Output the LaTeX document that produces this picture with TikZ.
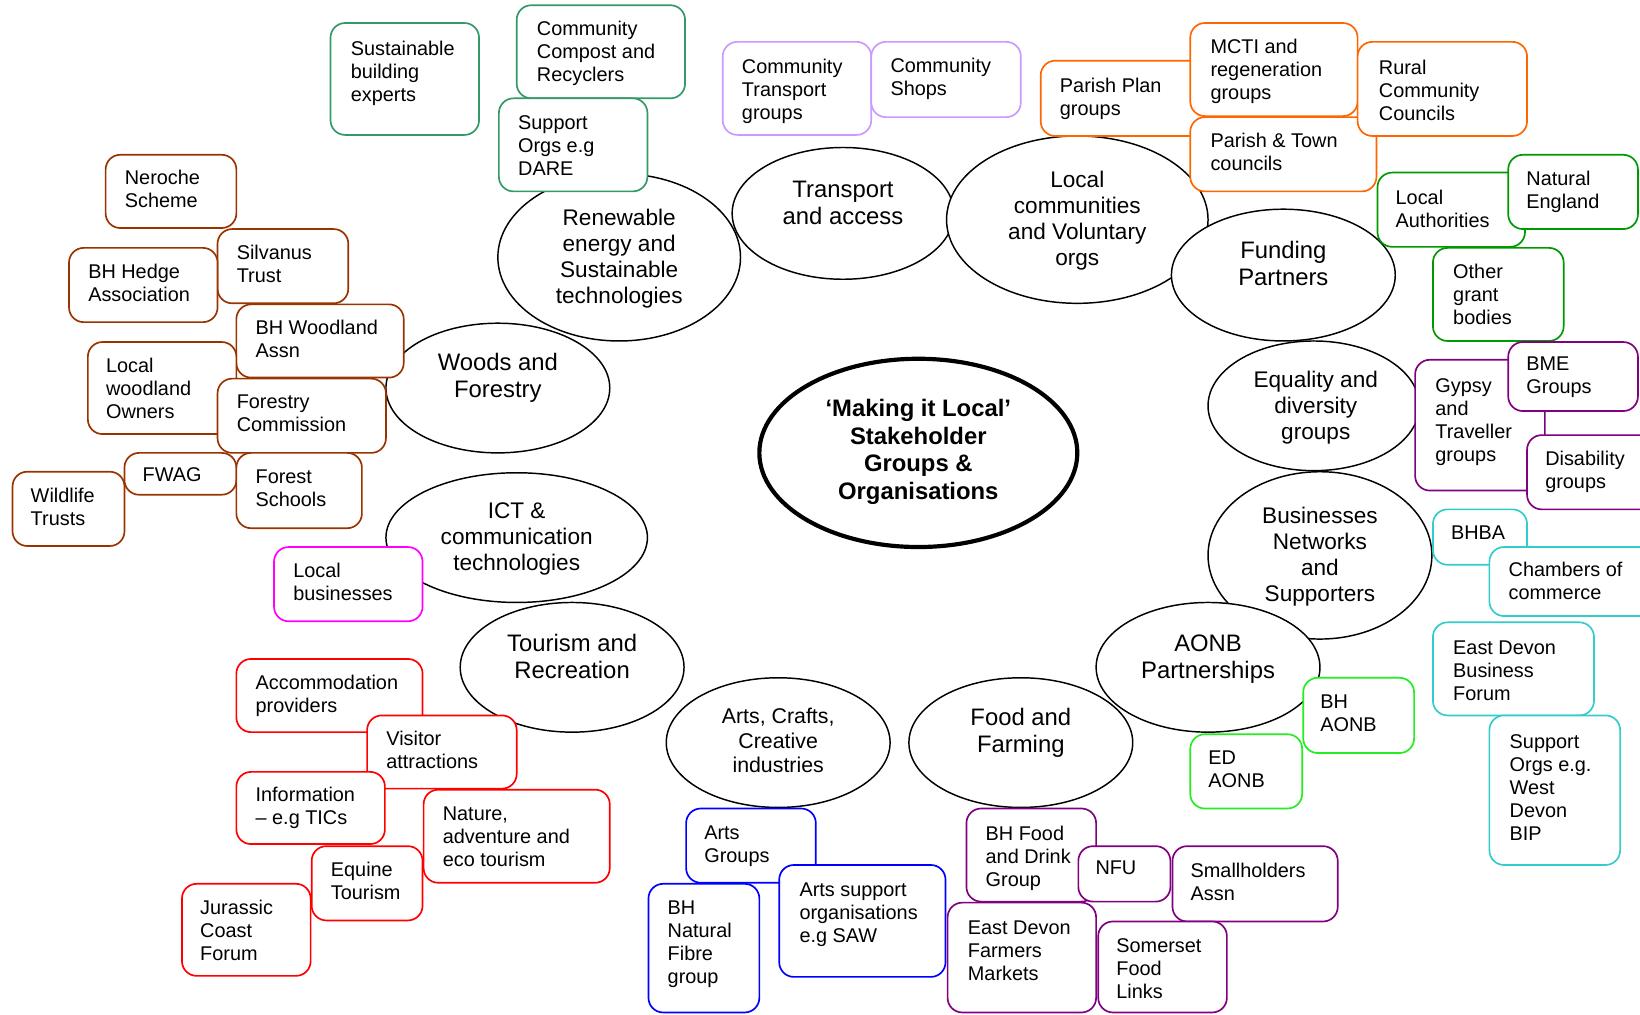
\documentclass[tikz,border=0pt]{standalone}
\usepackage{fontspec}
\setmainfont{Liberation Sans}
\usepackage{tikz}

\definecolor{teal}{HTML}{339966}
\definecolor{lilac}{HTML}{CC99FF}
\definecolor{orng}{HTML}{FF6600}
\definecolor{dkgreen}{HTML}{009900}
\definecolor{purp}{HTML}{800080}
\definecolor{cyn}{HTML}{33CCCC}
\definecolor{ltgreen}{HTML}{22EE22}
\definecolor{blu}{HTML}{0000FF}
\definecolor{brwn}{HTML}{993300}
\definecolor{rd}{HTML}{FF0000}
\definecolor{mgnt}{HTML}{FF00FF}

\tikzset{
  bx/.style={line width=0.8pt, rounded corners=7pt, fill=white},
  bubble/.style={draw=black, line width=0.7pt, fill=white},
  lbl/.style={inner sep=0pt, anchor=north west, align=left, font=\fontsize{9.5}{11}\selectfont},
  bigtxt/.style={inner sep=0pt, align=center, font=\fontsize{11.4}{13}\selectfont},
  midtxt/.style={inner sep=0pt, align=center, font=\fontsize{10.8}{12.4}\selectfont},
  artstxt/.style={inner sep=0pt, align=center, font=\fontsize{10.2}{11.8}\selectfont}
}

\begin{document}
\begin{tikzpicture}[x=0.5pt, y=-0.5pt]
        \useasboundingbox (0,0) rectangle (1568,970);
        \clip (0,0) rectangle (1568,970);
        \fill[white] (0,0) rectangle (1568,970);

        % topic bubbles
        \draw[bubble] (592,246) ellipse [x radius=116, y radius=80];
        \node[midtxt] (renew) at (592,247) {Renewable\\energy and\\Sustainable\\technologies};
        \draw[bubble] (806,204) ellipse [x radius=106, y radius=63];
        \node[bigtxt] (transp) at (806,194) {Transport\\and access};
        \draw[bubble] (1030,210) ellipse [x radius=125, y radius=80];
        \node[midtxt] (localc) at (1030,211) {Local\\communities\\and Voluntary\\orgs};
        \draw[bubble] (1227,263) ellipse [x radius=107, y radius=63];
        \node[bigtxt] (fund) at (1227,252) {Funding\\Partners};
        \draw[bubble] (1256,388) ellipse [x radius=101, y radius=62];
        \node[midtxt] (equal) at (1258,390) {Equality and\\diversity\\groups};
        \draw[bubble] (1262,531) ellipse [x radius=107, y radius=80];
        \node[midtxt] (busi) at (1262,532) {Businesses\\Networks\\and\\Supporters};
        \draw[bubble] (1155,638) ellipse [x radius=107, y radius=62];
        \node[bigtxt] (aonb) at (1155,630) {AONB\\Partnerships};
        \draw[bubble] (976,710) ellipse [x radius=107, y radius=62];
        \node[bigtxt] (food) at (976,701) {Food and\\Farming};
        \draw[bubble] (744,710) ellipse [x radius=107, y radius=62];
        \node[artstxt] (arts) at (744,708) {Arts, Crafts,\\Creative\\industries};
        \draw[bubble] (547,638) ellipse [x radius=107, y radius=62];
        \node[bigtxt] (tour) at (547,628) {Tourism and\\Recreation};
        \draw[bubble] (494,514) ellipse [x radius=125, y radius=62];
        \node[midtxt] (ict) at (494,515) {ICT \&\\communication\\technologies};
        \draw[bubble] (476,371) ellipse [x radius=107, y radius=62];
        \node[bigtxt] (woods) at (476,361) {Woods and\\Forestry};

        % centre
        \draw[bubble, line width=2pt] (878,433) ellipse [x radius=152, y radius=90];
        \node[bigtxt, font=\fontsize{11.4}{13.2}\selectfont\bfseries] (hub) at (878,432) {‘Making it Local’\\Stakeholder\\Groups \&\\Organisations};

        % renewables
        \draw[bx, draw=teal] (316,22) rectangle (458,129);
        \node[lbl] (sbe) at (335,39) {Sustainable\\building\\experts};
        \draw[bx, draw=teal] (494,5) rectangle (655,94);
        \node[lbl] (ccr) at (513,20) {Community\\Compost and\\Recyclers};
        \draw[bx, draw=teal] (477,94) rectangle (619,183);
        \node[lbl] (dare) at (495,110) {Support\\Orgs e.g\\DARE};

        % transport
        \draw[bx, draw=lilac] (691,40) rectangle (833,129);
        \node[lbl] (ctg) at (709,56) {Community\\Transport\\groups};
        \draw[bx, draw=lilac] (833,40) rectangle (976,112);
        \node[lbl] (shops) at (851,55) {Community\\Shops};

        % local communities
        \draw[bx, draw=orng] (995,58) rectangle (1160,130);
        \node[lbl] (ppg) at (1013,74) {Parish Plan\\groups};
        \draw[bx, draw=orng] (1138,22) rectangle (1298,111);
        \node[lbl] (mcti) at (1157,37) {MCTI and\\regeneration\\groups};
        \draw[bx, draw=orng] (1138,112) rectangle (1316,183);
        \node[lbl] (ptc) at (1157,127) {Parish \& Town\\councils};
        \draw[bx, draw=orng] (1298,40) rectangle (1460,130);
        \node[lbl] (rcc) at (1318,57) {Rural\\Community\\Councils};

        % funding
        \draw[bx, draw=dkgreen] (1317,165) rectangle (1458,236);
        \node[lbl] (la) at (1334,181) {Local\\Authorities};
        \draw[bx, draw=dkgreen] (1442,148) rectangle (1566,219);
        \node[lbl] (ne) at (1459,163) {Natural\\England};
        \draw[bx, draw=dkgreen] (1370,237) rectangle (1495,326);
        \node[lbl] (ogb) at (1389,252) {Other\\grant\\bodies};

        % equality
        \draw[bx, draw=purp] (1353,344) rectangle (1477,469);
        \node[lbl] (gyp) at (1372,362) {Gypsy\\and\\Traveller\\groups};
        \draw[bx, draw=purp] (1442,327) rectangle (1566,393);
        \node[lbl] (bme) at (1459,341) {BME\\Groups};
        \draw[bx, draw=purp] (1460,416) rectangle (1590,487);
        \node[lbl] (dis) at (1477,431) {Disability\\groups};

        % businesses
        \draw[bx, draw=cyn] (1370,487) rectangle (1460,540);
        \node[lbl] (bhba) at (1387,502) {BHBA};
        \draw[bx, draw=cyn] (1424,523) rectangle (1590,589);
        \node[lbl] (coc) at (1442,537) {Chambers of\\commerce};
        \draw[bx, draw=cyn] (1370,595) rectangle (1524,684);
        \node[lbl] (edbf) at (1389,612) {East Devon\\Business\\Forum};
        \draw[bx, draw=cyn] (1424,684) rectangle (1549,827);
        \node[lbl] (wdb) at (1443,702) {Support\\Orgs e.g.\\West\\Devon\\BIP};

        % aonb
        \draw[bx, draw=ltgreen] (1246,648) rectangle (1352,720);
        \node[lbl] (bha) at (1262,664) {BH\\AONB};
        \draw[bx, draw=ltgreen] (1138,702) rectangle (1245,773);
        \node[lbl] (eda) at (1155,717) {ED\\AONB};

        % food
        \draw[bx, draw=purp] (924,773) rectangle (1048,862);
        \node[lbl] (bhf) at (942,789) {BH Food\\and Drink\\Group};
        \draw[bx, draw=purp] (1031,809) rectangle (1119,862);
        \node[lbl] (nfu) at (1047,823) {NFU};
        \draw[bx, draw=purp] (1121,809) rectangle (1279,881);
        \node[lbl] (sha) at (1138,825) {Smallholders\\Assn};
        \draw[bx, draw=purp] (906,863) rectangle (1048,968);
        \node[lbl] (edfm) at (925,880) {East Devon\\Farmers\\Markets};
        \draw[bx, draw=purp] (1050,881) rectangle (1173,968);
        \node[lbl] (sfl) at (1067,897) {Somerset\\Food\\Links};

        % arts
        \draw[bx, draw=blu] (656,773) rectangle (780,844);
        \node[lbl] (ag) at (673,789) {Arts\\Groups};
        \draw[bx, draw=blu] (620,845) rectangle (726,968);
        \node[lbl] (bhnf) at (638,861) {BH\\Natural\\Fibre\\group};
        \draw[bx, draw=blu] (745,827) rectangle (904,934);
        \node[lbl] (asup) at (764,844) {Arts support\\organisations\\e.g SAW};

        % tourism
        \draw[bx, draw=rd] (226,630) rectangle (404,700);
        \node[lbl] (acc) at (244,645) {Accommodation\\providers};
        \draw[bx, draw=rd] (351,684) rectangle (494,754);
        \node[lbl] (vis) at (369,699) {Visitor\\attractions};
        \draw[bx, draw=rd] (226,738) rectangle (368,807);
        \node[lbl] (info) at (244,752) {Information\\– e.g TICs};
        \draw[bx, draw=rd] (405,755) rectangle (583,844);
        \node[lbl] (nat) at (423,771) {Nature,\\adventure and\\eco tourism};
        \draw[bx, draw=rd] (298,809) rectangle (404,880);
        \node[lbl] (equ) at (316,824) {Equine\\Tourism};
        \draw[bx, draw=rd] (174,845) rectangle (297,933);
        \node[lbl] (jcf) at (191,860) {Jurassic\\Coast\\Forum};

        % ict
        \draw[bx, draw=mgnt] (262,523) rectangle (404,594);
        \node[lbl] (lb) at (280,538) {Local\\businesses};

        % woods
        \draw[bx, draw=brwn] (101,148) rectangle (226,218);
        \node[lbl] (ner) at (119,162) {Neroche\\Scheme};
        \draw[bx, draw=brwn] (208,219) rectangle (333,290);
        \node[lbl] (silv) at (226,234) {Silvanus\\Trust};
        \draw[bx, draw=brwn] (66,237) rectangle (208,308);
        \node[lbl] (bhh) at (84,252) {BH Hedge\\Association};
        \draw[bx, draw=brwn] (226,291) rectangle (386,361);
        \node[lbl] (bhw) at (244,306) {BH Woodland\\Assn};
        \draw[bx, draw=brwn] (84,327) rectangle (226,415);
        \node[lbl] (lwo) at (101,342) {Local\\woodland\\Owners};
        \draw[bx, draw=brwn] (208,362) rectangle (369,433);
        \node[lbl] (fc) at (226,377) {Forestry\\Commission};
        \draw[bx, draw=brwn] (119,433) rectangle (226,473);
        \node[lbl] (fwag) at (136,447) {FWAG};
        \draw[bx, draw=brwn] (226,433) rectangle (346,505);
        \node[lbl] (fs) at (244,449) {Forest\\Schools};
        \draw[bx, draw=brwn] (12,451) rectangle (119,522);
        \node[lbl] (wt) at (29,466) {Wildlife\\Trusts};
    \end{tikzpicture}
\end{document}
